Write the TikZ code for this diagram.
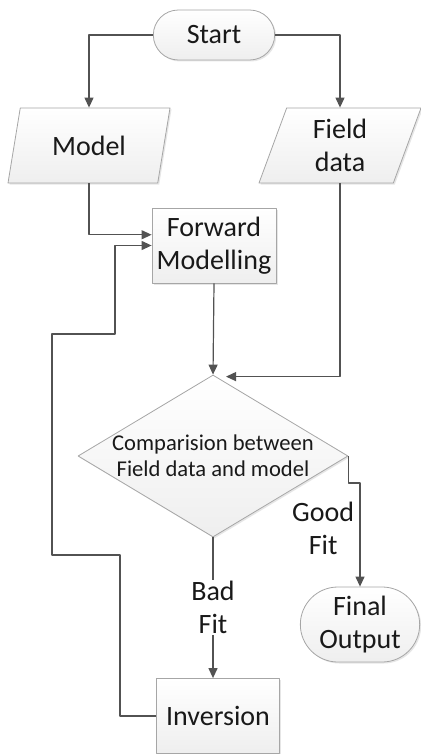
\documentclass[tikz,border=0pt]{standalone}
\usepackage{fontspec}
\setmainfont{Carlito}
\usetikzlibrary{shapes.geometric,shapes.misc,shadows,calc,arrows.meta}
\begin{document}
\begin{tikzpicture}[x=1pt,y=-1pt,>={Triangle[length=10pt,width=9pt]}, line join=round,
	box/.style={draw=gray!70, line width=.8pt, top color=white, bottom color=gray!13,
		text=black!90, align=center, font=\fontsize{28}{33}\selectfont,
		drop shadow={shadow xshift=1.5pt,shadow yshift=-1.5pt,opacity=.2}},
	term/.style={box, rounded rectangle, minimum height=#1},
	term/.default=50pt,
	iobox/.style={box, trapezium, trapezium left angle=65, trapezium right angle=115,
		trapezium stretches body=true, minimum width=162pt, minimum height=75pt},
	procbox/.style={box, rectangle, minimum width=124pt, minimum height=75pt},
	arr/.style={->, draw=black!68, line width=1.2pt},
	lbl/.style={text=black!90, align=center, font=\fontsize{28}{33}\selectfont}]
	\useasboundingbox (0,0) rectangle (420,754);
	% Knoten
	\node (start) [term, minimum width=128pt] at (214,35) {Start};
	\node (model) [iobox] at (89,145.5) {Model};
	\node (field) [iobox] at (340,145.5) {Field\\data};
	\node (fwd) [procbox] at (214,245.5) {Forward\\Modelling};
	\node (cmp) [box, diamond, minimum width=270pt, minimum height=162pt, inner sep=0pt,
		label={[font=\fontsize{22.6}{26}\selectfont, align=center, text=black!90]center:Comparision between\\Field data and model}] at (213,456) {};
	\node (final) [term=75pt, minimum width=126pt] at (360,624.5) {Final\\Output};
	\node (inv) [procbox, minimum width=123pt] at (218,716) {Inversion};
	% Verbindungen
	\draw[arr] (start.west) -| (model.north);
	\draw[arr] (start.east) -| (field.north);
	\draw[arr] (model.south) |- ([yshift=10.75pt]fwd.west);
	\draw[arr] (inv.west) -| (120,555) -| (52,334) -| (115,245.5) -- (fwd.west);
	\draw[arr] (fwd.south) -- (cmp.north);
	\draw[arr] (field.south) |- ($(cmp.north)+(13,2)$);
	\draw[arr] (cmp.east) -- ++(0,27) -| node[lbl, pos=.72, left, xshift=-2pt]{Good\\Fit} (final.north);
	\draw[arr] (cmp.south) -- node[lbl, fill=white, inner sep=1pt]{Bad\\Fit} (cmp.south |- inv.north);
\end{tikzpicture}
\end{document}
